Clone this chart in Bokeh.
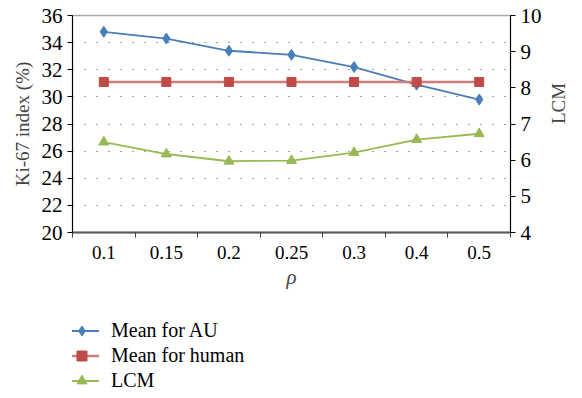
import math
from bokeh.plotting import figure
from bokeh.layouts import column
from bokeh.models import Range1d, LinearAxis, FixedTicker, Legend, LegendItem
from bokeh.embed import file_html
from bokeh.resources import INLINE

rho_labels = ["0.1", "0.15", "0.2", "0.25", "0.3", "0.4", "0.5"]
mean_au = [34.8, 34.3, 33.4, 33.1, 32.2, 30.9, 29.8]
mean_human = [31.1, 31.1, 31.1, 31.1, 31.1, 31.1, 31.1]
lcm = [6.5, 6.17, 5.97, 5.99, 6.21, 6.57, 6.73]

FONT = "'Liberation Serif', 'Times New Roman', serif"
BLUE = "#4A7EBB"
RED = "#BE4B48"
RED_LINE = "#CF7C7A"
GREEN = "#98B954"

xs = [i + 0.5 for i in range(len(rho_labels))]

p = figure(width=582, height=300, x_range=Range1d(0, len(rho_labels)), y_range=Range1d(20, 36),
           output_backend="svg", toolbar_location=None,
           min_border_left=72, min_border_right=62, min_border_top=15, min_border_bottom=68)
p.extra_y_ranges = {"lcm": Range1d(4, 10)}
p.background_fill_color = "white"
p.border_fill_color = "white"
p.outline_line_color = "#A6A6A6"
p.outline_line_width = 1.5

# x axis
xa = p.xaxis[0]
xa.ticker = FixedTicker(ticks=xs, minor_ticks=list(range(len(rho_labels) + 1)))
xa.major_label_overrides = {x: l for x, l in zip(xs, rho_labels)}
xa.major_tick_line_color = None
xa.minor_tick_line_color = "#404040"
xa.minor_tick_out = 5
xa.minor_tick_in = 0
xa.axis_line_color = "#595959"
xa.axis_line_width = 2
xa.major_label_text_font = FONT
xa.major_label_text_font_size = "19px"
xa.major_label_text_color = "black"
xa.major_label_standoff = 7
xa.axis_label = "ρ"
xa.axis_label_text_font = FONT
xa.axis_label_text_font_style = "italic"
xa.axis_label_text_font_size = "21px"
xa.axis_label_standoff = 3

# left axis
ya = p.yaxis[0]
ya.ticker = FixedTicker(ticks=list(range(20, 37, 2)))
ya.minor_tick_line_color = None
ya.major_tick_out = 5
ya.major_tick_in = 0
ya.axis_line_color = "black"
ya.major_tick_line_color = "black"
ya.major_label_text_font = FONT
ya.major_label_text_font_size = "21px"
ya.major_label_text_color = "black"
ya.major_label_standoff = 5
ya.axis_label = "Ki-67 index (%)"
ya.axis_label_text_font = FONT
ya.axis_label_text_font_style = "normal"
ya.axis_label_text_font_size = "19px"
ya.axis_label_standoff = 6

# right axis
ra = LinearAxis(y_range_name="lcm", ticker=FixedTicker(ticks=list(range(4, 11))))
ra.minor_tick_line_color = None
ra.major_tick_out = 5
ra.major_tick_in = 0
ra.axis_line_color = "black"
ra.major_tick_line_color = "black"
ra.major_label_text_font = FONT
ra.major_label_text_font_size = "21px"
ra.major_label_text_color = "black"
ra.major_label_standoff = 5
ra.axis_label = "LCM"
ra.axis_label_text_font = FONT
ra.axis_label_text_font_style = "normal"
ra.axis_label_text_font_size = "19px"
ra.axis_label_standoff = 14
try:
    ra.axis_label_orientation = math.pi / 2
except Exception:
    pass
p.add_layout(ra, "right")

# grid
p.xgrid.grid_line_color = None
p.ygrid.ticker = FixedTicker(ticks=list(range(22, 36, 2)))
p.ygrid.grid_line_color = "#404040"
p.ygrid.grid_line_dash = "1 11"
p.ygrid.grid_line_width = 1.2

def draw(fig, lcm_range=None):
    l1 = fig.line(xs, mean_au, line_color=BLUE, line_width=1.8)
    s1 = fig.scatter(xs, mean_au, marker="diamond", size=11, fill_color=BLUE, line_color=BLUE)
    l2 = fig.line(xs, mean_human, line_color=RED_LINE, line_width=2.5)
    s2 = fig.scatter(xs, mean_human, marker="square", size=9, fill_color=RED, line_color=RED)
    kw = {"y_range_name": lcm_range} if lcm_range else {}
    l3 = fig.line(xs, lcm, line_color=GREEN, line_width=1.8, **kw)
    s3 = fig.scatter(xs, lcm, marker="triangle", size=10, fill_color=GREEN, line_color=GREEN, **kw)
    return (l1, s1), (l2, s2), (l3, s3)

draw(p, "lcm")

# legend holder below the chart (its own data sit outside its visible range)
q = figure(width=582, height=98, x_range=Range1d(100, 101), y_range=Range1d(100, 101),
           output_backend="svg", toolbar_location=None,
           x_axis_location=None, y_axis_location=None,
           min_border_left=0, min_border_right=0, min_border_top=0, min_border_bottom=0)
q.outline_line_color = None
q.grid.visible = False
r1, r2, r3 = draw(q)

legend = Legend(items=[
    LegendItem(label="Mean for AU", renderers=list(r1)),
    LegendItem(label="Mean for human", renderers=list(r2)),
    LegendItem(label="LCM", renderers=list(r3)),
], location=(-8, 5))
legend.background_fill_alpha = 0
legend.border_line_color = None
legend.padding = 0
legend.margin = 0
legend.spacing = 0
legend.glyph_width = 35
legend.glyph_height = 25
legend.label_height = 25
legend.label_standoff = 12
legend.label_text_font = FONT
legend.label_text_font_size = "20px"
legend.label_text_color = "black"
q.add_layout(legend, "center")

open("out.html", "w").write(file_html(column(p, q), INLINE))
